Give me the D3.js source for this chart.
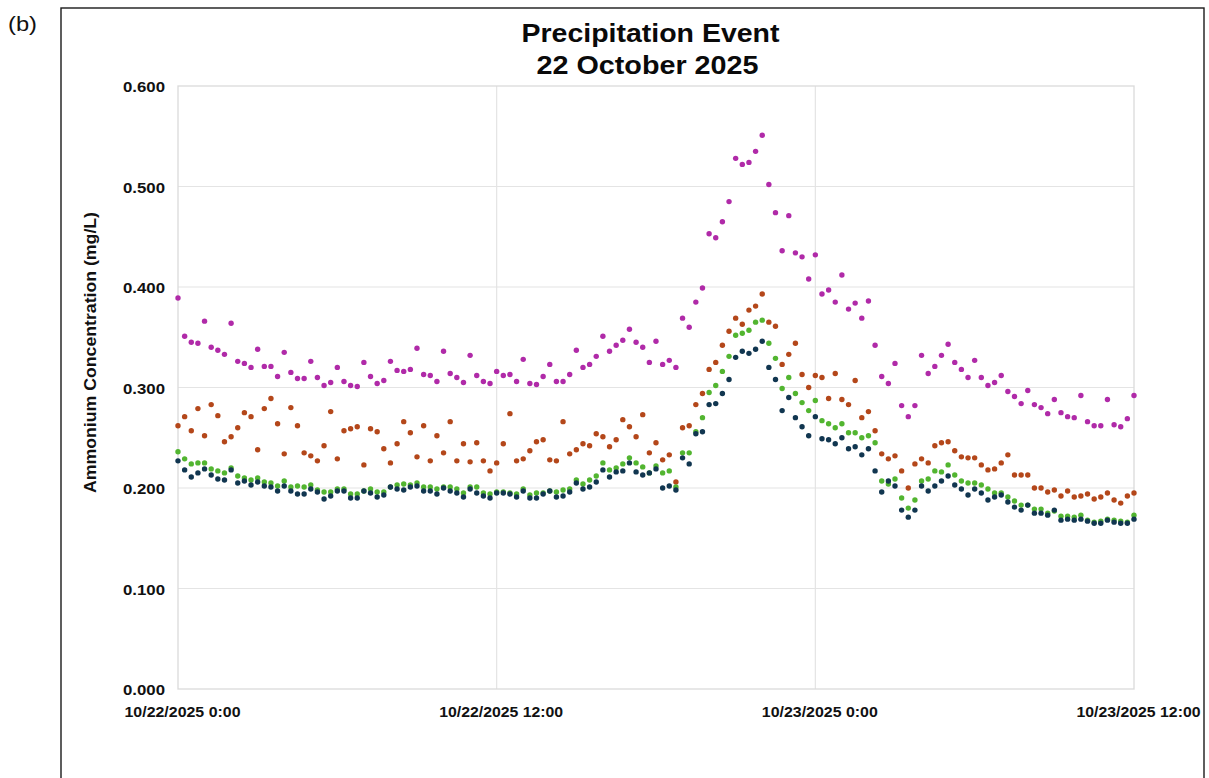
<!DOCTYPE html>
<html>
<head>
<meta charset="utf-8">
<script src="https://cdn.jsdelivr.net/npm/d3@7"></script>
<style>
  html, body { margin: 0; padding: 0; background: #fff; }
  svg text { font-family: "Liberation Sans", Arial, Helvetica, sans-serif; }
</style>
</head>
<body>
<svg id="chart" width="1209" height="778"></svg>
<script>
// ---------------- DATA ----------------
const startTime = "2025-10-22T00:00:00";
const endTime = "2025-10-23T12:00:00";
const stepMinutes = 15;

const seriesMagenta = [
0.389,0.351,0.345,0.344,0.366,0.340,0.337,0.333,0.364,0.326,0.324,0.320,0.338,0.321,0.321,0.311,0.335,0.315,0.309,0.309,0.326,0.310,0.302,0.305,0.320,
0.306,0.302,0.301,0.325,0.311,0.304,0.307,0.326,0.317,0.316,0.318,0.339,0.313,0.312,0.306,0.336,0.314,0.310,0.305,0.332,0.312,0.306,0.304,0.316,
0.312,0.313,0.306,0.328,0.304,0.303,0.311,0.323,0.306,0.306,0.313,0.337,0.320,0.323,0.331,0.351,0.336,0.342,0.347,0.358,0.345,0.340,0.325,0.346,
0.323,0.327,0.320,0.369,0.360,0.385,0.399,0.453,0.449,0.465,0.485,0.528,0.522,0.524,0.535,0.551,0.502,0.474,0.436,0.471,0.434,0.430,0.408,0.432,
0.393,0.397,0.385,0.412,0.378,0.384,0.369,0.386,0.342,0.311,0.304,0.324,0.282,0.271,0.282,0.332,0.314,0.321,0.332,0.343,0.325,0.318,0.310,
0.327,0.310,0.302,0.305,0.312,0.296,0.291,0.284,0.297,0.283,0.280,0.274,0.288,0.275,0.271,0.270,0.292,0.266,0.262,0.262,0.288,0.263,0.261,0.269,0.292
];
const seriesOrange = [
0.262,0.271,0.257,0.279,0.252,0.283,0.272,0.246,0.251,0.260,0.275,0.271,0.238,0.279,0.289,0.264,0.234,0.280,0.262,0.235,0.232,0.227,0.242,0.276,0.229,
0.257,0.259,0.261,0.223,0.259,0.256,0.239,0.225,0.244,0.266,0.255,0.231,0.262,0.227,0.252,0.235,0.266,0.227,0.244,0.226,0.245,0.227,0.217,0.225,
0.244,0.274,0.227,0.229,0.237,0.246,0.248,0.228,0.227,0.266,0.234,0.238,0.244,0.242,0.254,0.251,0.241,0.248,0.268,0.261,0.251,0.273,0.235,0.245,
0.228,0.233,0.206,0.260,0.262,0.283,0.294,0.318,0.325,0.342,0.356,0.369,0.363,0.377,0.381,0.393,0.365,0.361,0.323,0.333,0.344,0.313,0.300,0.312,
0.310,0.289,0.314,0.288,0.283,0.307,0.270,0.276,0.257,0.234,0.229,0.232,0.217,0.200,0.224,0.229,0.225,0.242,0.245,0.246,0.237,0.231,0.230,
0.230,0.223,0.218,0.219,0.225,0.233,0.213,0.213,0.213,0.200,0.200,0.196,0.198,0.192,0.197,0.191,0.192,0.194,0.189,0.191,0.195,0.188,0.185,0.192,0.195
];
const seriesGreen = [
0.236,0.229,0.224,0.225,0.225,0.219,0.217,0.215,0.220,0.212,0.210,0.208,0.210,0.206,0.205,0.202,0.207,0.201,0.202,0.201,0.203,0.198,0.196,0.196,0.199,
0.199,0.194,0.194,0.197,0.199,0.196,0.196,0.201,0.203,0.204,0.203,0.205,0.201,0.201,0.199,0.201,0.201,0.199,0.195,0.201,0.201,0.195,0.194,0.196,
0.196,0.195,0.194,0.199,0.193,0.195,0.195,0.197,0.196,0.198,0.199,0.208,0.204,0.208,0.212,0.225,0.218,0.220,0.224,0.230,0.225,0.221,0.215,0.222,
0.215,0.217,0.201,0.235,0.235,0.256,0.270,0.295,0.302,0.316,0.331,0.352,0.354,0.357,0.365,0.367,0.344,0.329,0.299,0.310,0.294,0.285,0.277,0.287,
0.267,0.264,0.260,0.264,0.255,0.255,0.250,0.252,0.245,0.207,0.204,0.209,0.190,0.180,0.188,0.207,0.209,0.217,0.216,0.223,0.213,0.207,0.205,
0.205,0.203,0.199,0.195,0.195,0.191,0.187,0.183,0.183,0.179,0.179,0.175,0.177,0.172,0.172,0.171,0.173,0.168,0.166,0.167,0.169,0.168,0.167,0.166,0.173
];
const seriesNavy = [
0.227,0.218,0.211,0.215,0.219,0.213,0.209,0.208,0.218,0.205,0.207,0.203,0.206,0.202,0.201,0.197,0.202,0.197,0.194,0.194,0.199,0.196,0.189,0.192,0.197,
0.197,0.190,0.190,0.197,0.195,0.191,0.193,0.201,0.199,0.198,0.201,0.202,0.197,0.197,0.194,0.200,0.197,0.195,0.191,0.199,0.195,0.192,0.190,0.195,
0.195,0.194,0.191,0.197,0.190,0.190,0.194,0.197,0.191,0.192,0.196,0.205,0.199,0.201,0.206,0.218,0.211,0.216,0.217,0.225,0.216,0.213,0.215,0.219,
0.200,0.202,0.198,0.230,0.224,0.254,0.256,0.283,0.284,0.294,0.308,0.330,0.336,0.334,0.338,0.346,0.320,0.308,0.277,0.290,0.270,0.261,0.252,0.271,
0.249,0.248,0.244,0.250,0.239,0.241,0.233,0.239,0.217,0.196,0.207,0.202,0.178,0.171,0.178,0.202,0.197,0.202,0.207,0.212,0.203,0.199,0.193,
0.199,0.195,0.188,0.191,0.193,0.186,0.181,0.178,0.183,0.175,0.175,0.173,0.178,0.168,0.169,0.168,0.169,0.167,0.165,0.165,0.168,0.166,0.165,0.165,0.169
];

const yTickValues = [0, 0.1, 0.2, 0.3, 0.4, 0.5, 0.6];
const xTickLabels = ["10/22/2025 0:00", "10/22/2025 12:00", "10/23/2025 0:00", "10/23/2025 12:00"];
const xTickTimes = ["2025-10-22T00:00:00", "2025-10-22T12:00:00", "2025-10-23T00:00:00", "2025-10-23T12:00:00"];
const titleLines = ["Precipitation Event", "22 October 2025"];
const yAxisTitle = "Ammonium Concentration (mg/L)";
const panelLabel = "(b)";

const seriesList = [
  { name: "magenta", values: seriesMagenta, color: "#b02aa8" },
  { name: "orange",  values: seriesOrange,  color: "#b4471a" },
  { name: "green",   values: seriesGreen,   color: "#52b530" },
  { name: "navy",    values: seriesNavy,    color: "#113650" }
];

// ---------------- LAYOUT ----------------
const plot = { left: 178, right: 1134, top: 86, bottom: 689 };
const svg = d3.select("#chart");
svg.append("rect").attr("width", 1209).attr("height", 778).attr("fill", "#fff");

const parse = d3.isoParse;
const t0 = parse(startTime);
const x = d3.scaleTime().domain([t0, parse(endTime)]).range([plot.left, plot.right]);
const y = d3.scaleLinear().domain([0, 0.6]).range([plot.bottom, plot.top]);

function fitText(sel, width) {
  sel.each(function () {
    this.setAttribute("textLength", width);
    this.setAttribute("lengthAdjust", "spacingAndGlyphs");
  });
}

// outer frame
svg.append("rect")
  .attr("x", 61).attr("y", 8).attr("width", 1143).attr("height", 800)
  .attr("fill", "none").attr("stroke", "#1a1a1a").attr("stroke-width", 1.4);

// panel label
svg.append("text").attr("x", 8).attr("y", 31)
  .attr("font-size", 20).attr("fill", "#111").text(panelLabel)
  .call(fitText, 29);

// gridlines
const grid = svg.append("g");
grid.selectAll("line.h").data(yTickValues.slice(1, -1)).join("line")
  .attr("x1", plot.left).attr("x2", plot.right)
  .attr("y1", d => y(d)).attr("y2", d => y(d))
  .attr("stroke", "#e4e4e4").attr("stroke-width", 1.2);
grid.selectAll("line.v").data(xTickTimes.slice(1, -1)).join("line")
  .attr("x1", d => x(parse(d))).attr("x2", d => x(parse(d)))
  .attr("y1", plot.top).attr("y2", plot.bottom)
  .attr("stroke", "#e4e4e4").attr("stroke-width", 1.2);
grid.append("rect")
  .attr("x", plot.left).attr("y", plot.top)
  .attr("width", plot.right - plot.left).attr("height", plot.bottom - plot.top)
  .attr("fill", "none").attr("stroke", "#dadada").attr("stroke-width", 1.3);

// y axis (labels only)
const yAxis = d3.axisLeft(y).tickValues(yTickValues).tickFormat(d3.format(".3f")).tickSize(0).tickPadding(0);
const yg = svg.append("g").attr("transform", `translate(${plot.left},0)`).call(yAxis);
yg.select(".domain").remove();
yg.selectAll("text")
  .attr("x", 165 - plot.left - 42).attr("dy", "0.36em")
  .attr("text-anchor", "start")
  .attr("font-size", 15.5).attr("font-weight", "bold").attr("fill", "#111")
  .style("font-family", '"Liberation Sans", Arial, sans-serif')
  .call(fitText, 42);

// x axis (labels only)
const xAxis = d3.axisBottom(x).tickValues(xTickTimes.map(parse))
  .tickFormat((d, i) => xTickLabels[i]).tickSize(0).tickPadding(0);
const xg = svg.append("g").attr("transform", `translate(0,${plot.bottom})`).call(xAxis);
xg.select(".domain").remove();
xg.selectAll("text")
  .attr("y", 27.5).attr("dy", 0).attr("x", 4)
  .attr("font-size", 15.5).attr("font-weight", "bold").attr("fill", "#111")
  .style("font-family", '"Liberation Sans", Arial, sans-serif')
  .each(function (d, i) {
    const w = xTickLabels[i].length >= 16 ? 124 : 116;
    this.setAttribute("textLength", w);
    this.setAttribute("lengthAdjust", "spacingAndGlyphs");
  });

// y axis title
svg.append("text")
  .attr("transform", "translate(96,352.5) rotate(-90)")
  .attr("text-anchor", "middle")
  .attr("font-size", 16.5).attr("font-weight", "bold").attr("fill", "#111")
  .text(yAxisTitle)
  .call(fitText, 281);

// title
svg.append("text").attr("x", 650.5).attr("y", 41.5).attr("text-anchor", "middle")
  .attr("font-size", 26.5).attr("font-weight", "bold").attr("fill", "#0a0a0a")
  .text(titleLines[0]).call(fitText, 258);
svg.append("text").attr("x", 647.5).attr("y", 74).attr("text-anchor", "middle")
  .attr("font-size", 26.5).attr("font-weight", "bold").attr("fill", "#0a0a0a")
  .text(titleLines[1]).call(fitText, 222);

// points
const timeOf = i => d3.timeMinute.offset(t0, i * stepMinutes);
const pts = svg.append("g");
seriesList.forEach(s => {
  pts.append("g").selectAll("circle").data(s.values).join("circle")
    .attr("cx", (d, i) => x(timeOf(i)))
    .attr("cy", d => y(d))
    .attr("r", 2.7)
    .attr("fill", s.color);
});
</script>
</body>
</html>
